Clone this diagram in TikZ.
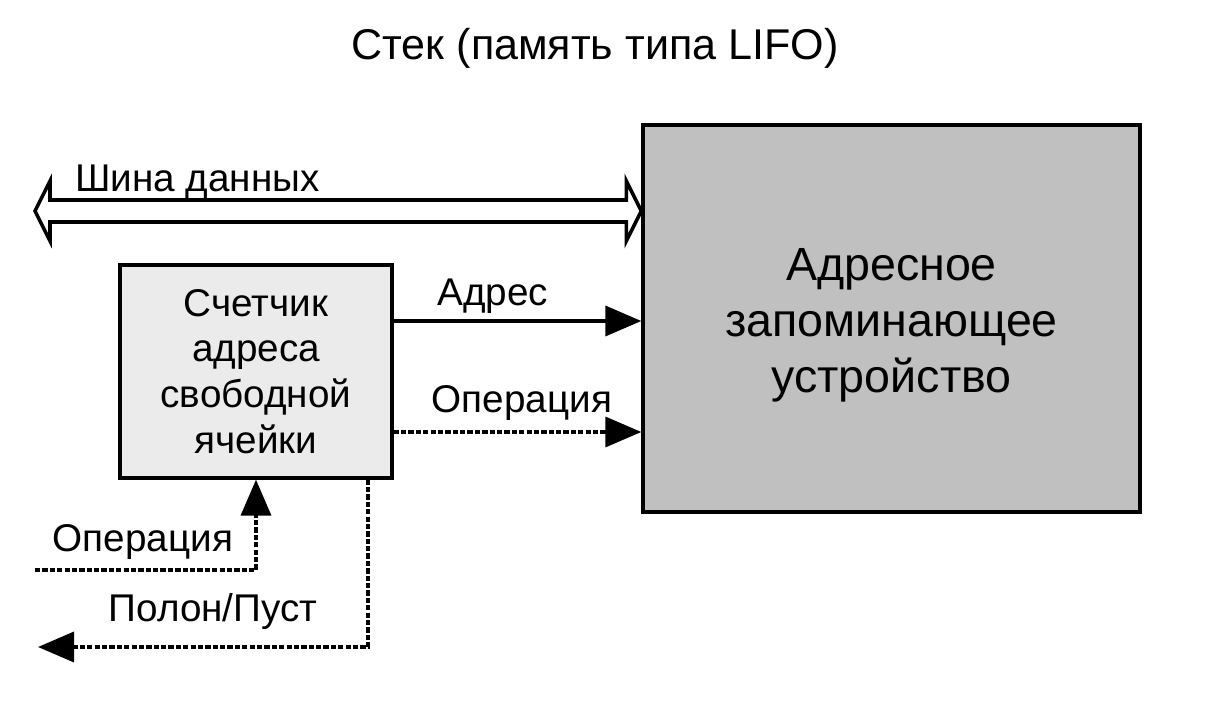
\documentclass[tikz,border=0pt]{standalone}
\usepackage{fontspec}
\setmainfont{Liberation Sans}
\usepackage{tikz}
\usetikzlibrary{arrows.meta, positioning, calc}
\usepackage{xcolor}
\definecolor{StackBlack}{HTML}{000000}
\definecolor{StackMemGray}{HTML}{C0C0C0}
\definecolor{StackCntGray}{HTML}{EBEBEB}
\tikzset{
    % Node styles
    memorybox/.style={
        rectangle,
        draw=StackBlack,
        fill=StackMemGray,
        line width=1.9pt,
        minimum width=9.94cm,
        minimum height=7.74cm
    },
    memorytext/.style={
        inner sep=0pt,
        align=center,
        font=\fontsize{26.5}{32}\selectfont
    },
    counterbox/.style={
        rectangle,
        draw=StackBlack,
        fill=StackCntGray,
        line width=1.9pt,
        minimum width=5.44cm,
        minimum height=4.26cm,
        align=center,
        font=\fontsize{22}{26}\selectfont
    },
    sigtext/.style={
        inner sep=0pt,
        font=\fontsize{22}{26}\selectfont
    },
    % Arrow styles
    myarrow/.style={
        -{Triangle[length=0.72cm,width=0.6cm]},
        line width=2pt,
        StackBlack
    },
    dashedarrow/.style={
        myarrow,
        dash pattern=on 3pt off 1.2pt
    },
    busarrow/.style={
        line width=2pt,
        StackBlack,
        line join=miter
    }
}

\begin{document}
\begin{tikzpicture}
    \useasboundingbox (0,0) rectangle (24.18,14.2);

    \node[inner sep=0pt, font=\fontsize{24.5}{29}\selectfont] (title) at (11.9,13.24) {Стек (память типа LIFO)};

    \node[memorybox] (memory) at (17.83,7.83) {};
    \node[memorytext] (memorylabel) at ([yshift=-0.14cm]memory.center) {Адресное\\запоминающее\\устройство};
    \node[counterbox] (counter) at (5.12,6.77) {Счетчик\\адреса\\свободной\\ячейки};

    % data bus
    \coordinate (busL) at (0.7,9.98);
    \coordinate (busR) at (memory.west |- busL);
    \draw[busarrow] (busL) -- ++(0.3,0.6) -- ++(0,-0.38) -- ($(busR)+(-0.3,0.22)$) -- ++(0,0.38)
        -- (busR) -- ++(-0.3,-0.6) -- ++(0,0.38) -- ($(busL)+(0.3,-0.22)$) -- ++(0,-0.38) -- cycle;
    \node[sigtext, anchor=west] (buslabel) at (1.5,10.55) {Шина данных};

    % counter -> memory
    \draw[myarrow] ([yshift=1.01cm]counter.east) -- ([yshift=1.01cm]counter.east -| memory.west);
    \node[sigtext] (addrlabel) at (9.86,8.28) {Адрес};
    \draw[dashedarrow] ([yshift=-1.21cm]counter.east) -- ([yshift=-1.21cm]counter.east -| memory.west);
    \node[sigtext] (oplabel) at (10.44,6.14) {Операция};

    % inputs and outputs of the counter
    \coordinate (opin) at (0.7,2.8);
    \coordinate (fullout) at (0.76,1.26);
    \draw[dashedarrow] (opin) -| (counter.south);
    \node[sigtext] (opinlabel) at (2.86,3.36) {Операция};
    \draw[dashedarrow] ([xshift=2.24cm]counter.south) |- (fullout);
    \node[sigtext] (fulllabel) at (4.26,1.96) {Полон/Пуст};
\end{tikzpicture}
\end{document}
